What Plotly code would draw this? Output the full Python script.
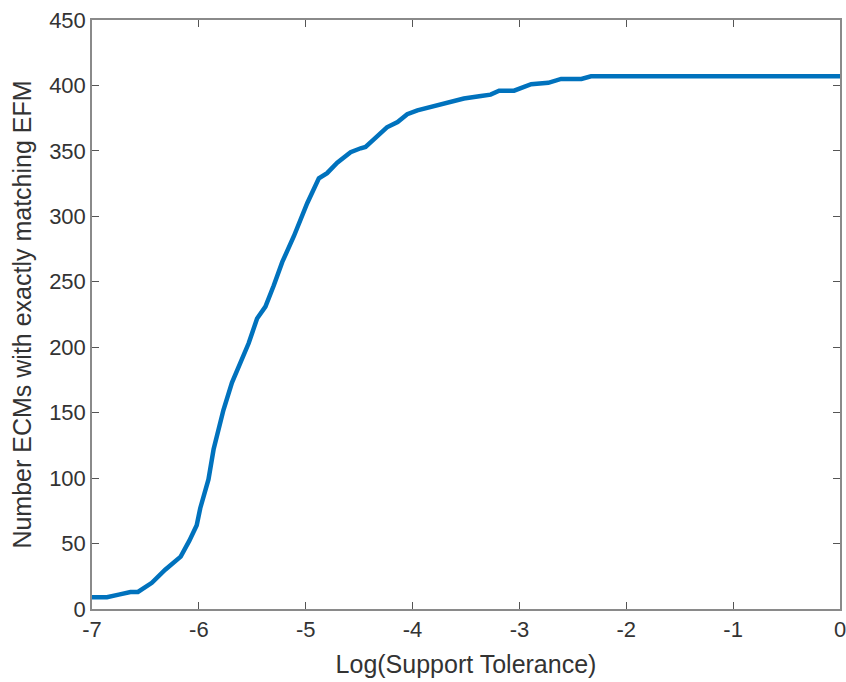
import plotly.graph_objects as go

log_tol = [-7.0, -6.86, -6.75, -6.64, -6.57, -6.44, -6.315, -6.17, -6.09, -6.02, -5.987, -5.91, -5.862,
           -5.77, -5.69, -5.61, -5.534, -5.455, -5.377, -5.30, -5.22, -5.11, -4.986, -4.877, -4.80,
           -4.705, -4.58, -4.486, -4.44, -4.36, -4.24, -4.14, -4.05, -3.955, -3.86, -3.77, -3.673,
           -3.595, -3.52, -3.36, -3.27, -3.19, -3.05, -2.89, -2.73, -2.61, -2.42, -2.33, 0.0]
n_match = [9, 9, 11, 13, 13, 20, 30, 40, 52, 64, 77, 99, 122,
           152, 173, 188, 203, 222, 231, 247, 265, 285, 310, 329, 333,
           341, 349, 352, 353, 359, 368, 372, 378, 381, 383, 385, 387,
           389, 390, 392, 393, 396, 396, 401, 402, 405, 405, 407, 407]

x_ticks = [-7, -6, -5, -4, -3, -2, -1, 0]
y_ticks = [0, 50, 100, 150, 200, 250, 300, 350, 400, 450]

FONT = "Liberation Sans, Arial, sans-serif"

fig = go.Figure()
fig.add_trace(go.Scatter(x=log_tol, y=n_match, mode="lines",
                         line=dict(color="#0072BD", width=4.5), showlegend=False))

axis_common = dict(showgrid=False, zeroline=False, showline=True, linecolor="#8a8a8a", linewidth=1.5,
                   ticks="inside", ticklen=7, tickcolor="#555555", tickwidth=1, mirror="ticks",
                   automargin=False, ticklabeloverflow="allow",
                   tickfont=dict(family=FONT, size=22, color="#333333"))

fig.update_layout(
    width=846, height=682,
    margin=dict(l=92, r=6, t=20, b=73),
    paper_bgcolor="white", plot_bgcolor="white",
    xaxis=dict(range=[-7, 0], tickvals=x_ticks, ticktext=[str(v) for v in x_ticks],
               title=dict(text="Log(Support Tolerance)", standoff=14,
                          font=dict(family=FONT, size=25, color="#333333")),
               **axis_common),
    yaxis=dict(range=[0, 450], tickvals=y_ticks, ticktext=[str(v) for v in y_ticks],
               title=dict(text="Number ECMs with exactly matching EFM", standoff=10,
                          font=dict(family=FONT, size=25, color="#333333")),
               **axis_common),
)

fig.write_html("out.html")
